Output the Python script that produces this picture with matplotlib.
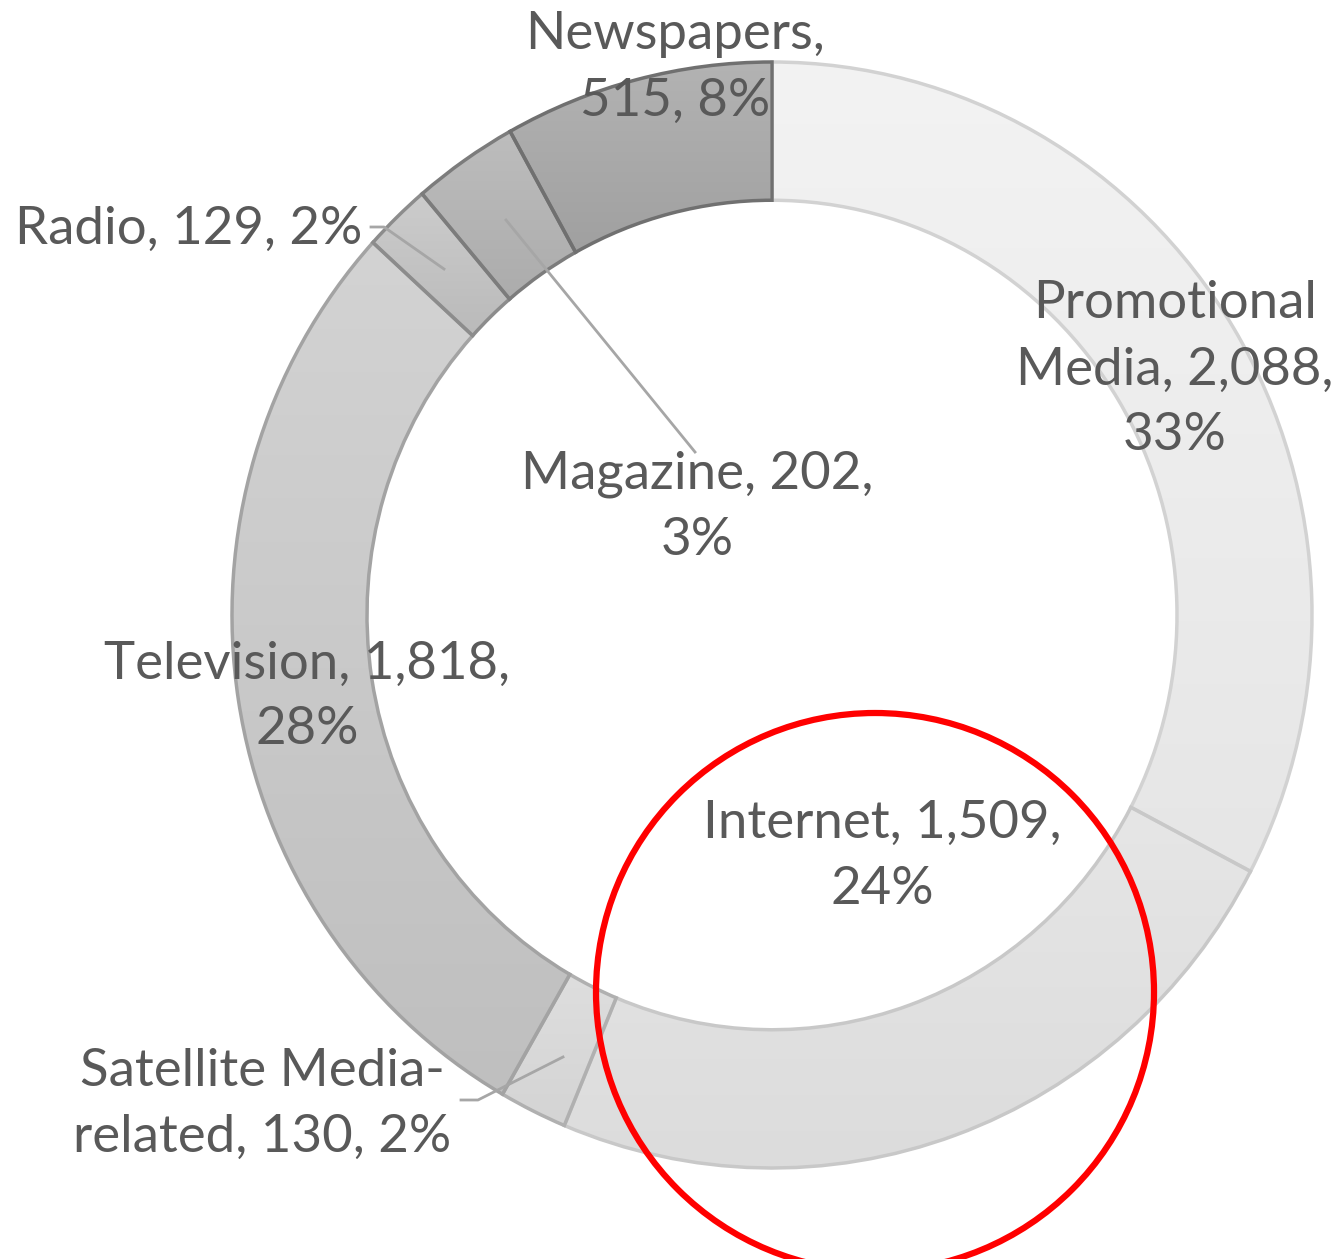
import matplotlib
matplotlib.use("Agg")
import matplotlib.pyplot as plt
import numpy as np
from matplotlib.colors import LinearSegmentedColormap
from matplotlib.patches import Ellipse

# media channels, clockwise from 12 o'clock
channels = ["Promotional Media", "Internet", "Satellite Media-related",
            "Television", "Radio", "Magazine", "Newspapers"]
counts = [2088, 1509, 130, 1818, 129, 202, 515]
label_text = ["Promotional\nMedia, 2,088,\n33%", "Internet, 1,509,\n24%",
              "Satellite Media-\nrelated, 130, 2%", "Television, 1,818,\n28%",
              "Radio, 129, 2%", "Magazine, 202,\n3%", "Newspapers,\n515, 8%"]

# gradient fill (top -> bottom) and outline per slice
fill_top = ["#f3f3f3", "#e6e6e6", "#dedede", "#d3d3d3", "#cccccc", "#bdbdbd", "#b3b3b3"]
fill_bot = ["#e6e6e6", "#dcdcdc", "#d4d4d4", "#bfbfbf", "#bababa", "#acacac", "#a0a0a0"]
edges = ["#d2d2d2", "#c8c8c8", "#b0b0b0", "#a3a3a3", "#8c8c8c", "#7c7c7c", "#707070"]

W, H = 1340, 1259
CX, CY = 772, 615          # donut centre in pixels
RX, RY = 540, 553          # outer radius in pixels (slightly tall)

fig = plt.figure(figsize=(W / 100, H / 100), dpi=100)
ax = fig.add_axes([0, 0, 1, 1])


def to_data(px, py):
    return (px - CX) / RX, (CY - py) / RY


wedges, _ = ax.pie(counts, startangle=90, counterclock=False, radius=1.0,
                   colors=fill_top, wedgeprops=dict(width=0.25, linewidth=2.5))

ax.set_aspect("auto")
ax.set_xlim((0 - CX) / RX, (W - CX) / RX)
ax.set_ylim((CY - H) / RY, (CY - 0) / RY)
ax.axis("off")

ramp = np.linspace(0, 1, 256).reshape(-1, 1)
for w, top, bot, ec in zip(wedges, fill_top, fill_bot, edges):
    w.set_facecolor("none")
    w.set_edgecolor(ec)
    w.set_zorder(3)
    bb = w.get_path().get_extents()
    cmap = LinearSegmentedColormap.from_list("g", [top, bot])
    im = ax.imshow(ramp, cmap=cmap, aspect="auto", origin="upper",
                   extent=[bb.x0, bb.x1, bb.y0, bb.y1], zorder=2)
    im.set_clip_path(w)

ax.set_xlim((0 - CX) / RX, (W - CX) / RX)
ax.set_ylim((CY - H) / RY, (CY - 0) / RY)

# label centres in pixel coordinates
label_pos = [(1175, 370), (882, 856), (262, 1104), (307, 697),
             (189, 229), (697, 507), (675, 68)]
for txt, (px, py) in zip(label_text, label_pos):
    x, y = to_data(px, py)
    ax.text(x, y, txt, ha="center", va="center", fontsize=38, zorder=5,
            family="Lato", color="#595959", linespacing=1.5)

# leader lines
leaders = [
    [(371, 227), (384, 227), (444, 269)],
    [(506, 220), (695, 452)],
    [(461, 1100), (478, 1100), (563, 1057)],
]
for pts in leaders:
    xs, ys = zip(*[to_data(px, py) for px, py in pts])
    ax.plot(xs, ys, color="#a6a6a6", lw=2, zorder=4)

# red highlight circle
rx, ry = to_data(875, 992)
ax.add_patch(Ellipse((rx, ry), 2 * 279 / RX, 2 * 279 / RY, fill=False,
                     edgecolor="#ff0000", lw=4.5, clip_on=False, zorder=6))

fig.savefig("out.png", dpi=100)
